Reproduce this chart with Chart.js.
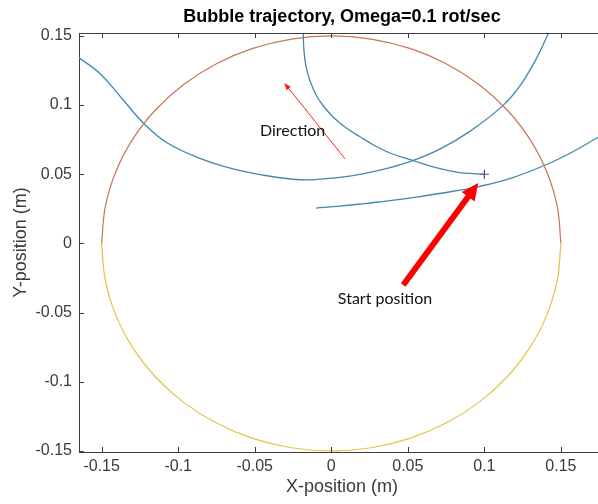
<!DOCTYPE html>
<html>
<head>
<meta charset="utf-8">
<script src="https://cdn.jsdelivr.net/npm/chart.js@4.4.0/dist/chart.umd.min.js"></script>
<style>
  html, body { margin: 0; padding: 0; background: #ffffff; overflow: hidden; width: 598px; height: 504px; }
  #c { display: block; }
</style>
</head>
<body>
<canvas id="c" width="605" height="504"></canvas>
<script>
// Axis ticks
const xTicks = [-0.15, -0.1, -0.05, 0, 0.05, 0.1, 0.15];
const xTickLabels = ['-0.15', '-0.1', '-0.05', '0', '0.05', '0.1', '0.15'];
const yTicks = [-0.15, -0.1, -0.05, 0, 0.05, 0.1, 0.15];
const yTickLabels = ['-0.15', '-0.1', '-0.05', '0', '0.05', '0.1', '0.15'];

// Container wall, radius 0.15 m (points every 10 degrees)
const wallX = [-0.15, -0.14772, -0.14095, -0.12990, -0.11491, -0.09642, -0.075, -0.05130, -0.02605, 0,
               0.02605, 0.05130, 0.075, 0.09642, 0.11491, 0.12990, 0.14095, 0.14772, 0.15];
const wallUpperY = [0, 0.02605, 0.05130, 0.075, 0.09642, 0.11491, 0.12990, 0.14095, 0.14772, 0.15,
                    0.14772, 0.14095, 0.12990, 0.11491, 0.09642, 0.075, 0.05130, 0.02605, 0];
const wallLowerY = [0, -0.02605, -0.05130, -0.075, -0.09642, -0.11491, -0.12990, -0.14095, -0.14772, -0.15,
                    -0.14772, -0.14095, -0.12990, -0.11491, -0.09642, -0.075, -0.05130, -0.02605, 0];

// Bubble trajectory pieces (m)
const leg1X = [-0.0183, -0.0183, -0.0179, -0.0166, -0.0140, -0.0100, -0.0048, 0.0017, 0.0096, 0.0187,
               0.0285, 0.0396, 0.0540, 0.0683, 0.0827, 0.0949, 0.0999];
const leg1Y = [0.1582, 0.1522, 0.1401, 0.1285, 0.1177, 0.1075, 0.0988, 0.0909, 0.0836, 0.0771,
               0.0706, 0.0648, 0.0597, 0.0547, 0.0514, 0.0503, 0.0500];

const leg2X = [-0.1707, -0.1648, -0.1510, -0.1366, -0.1223, -0.1073, -0.0858, -0.0642, -0.0420, -0.0205,
               -0.0074, 0.0056, 0.0187, 0.0318, 0.0533, 0.0709, 0.0905, 0.1121, 0.1232, 0.1341, 0.1417, 0.1441];
const leg2Y = [0.1383, 0.1341, 0.1227, 0.1046, 0.0865, 0.0728, 0.0615, 0.0539, 0.0489, 0.0460,
               0.0464, 0.0477, 0.0499, 0.0529, 0.0599, 0.0681, 0.0810, 0.0996, 0.1138, 0.1339, 0.1516, 0.1578];

const leg3X = [-0.0100, 0.0056, 0.0231, 0.0383, 0.0557, 0.0797, 0.0971, 0.1180, 0.1395, 0.1572, 0.1735, 0.1820];
const leg3Y = [0.0255, 0.0269, 0.0290, 0.0309, 0.0335, 0.0377, 0.0413, 0.0474, 0.0565, 0.0659, 0.0762, 0.0815];

// Start point of the bubble
const startX = [0.1];
const startY = [0.05];

// Annotation arrows: [tailX, tailY, headX, headY]
const directionArrow = [0.0089, 0.0612, -0.0307, 0.1160];
const startArrow = [0.0470, -0.0301, 0.0960, 0.0436];
// Annotation labels: [x, y, text]
const notes = [[-0.0466, 0.0815, 'Direction'], [0.0043, -0.0402, 'Start position']];

const pts = (xs, ys) => xs.map((x, i) => ({x: x, y: ys[i]}));

const TEXT = '#3a3a3a';
const SANS = '"Liberation Sans", Arial, Helvetica, sans-serif';
const BLUE = '#4088ae';

const wallSet = (data, color) => ({
  data: data, showLine: true, borderColor: color, borderWidth: 1.2,
  pointRadius: 0, pointHoverRadius: 0, tension: 0.35, fill: false
});
const legSet = (data) => ({
  data: data, showLine: true, borderColor: BLUE, borderWidth: 1.3,
  pointRadius: 0, pointHoverRadius: 0, tension: 0.4, fill: false
});

// Box ticks, top spine, arrows and notes
const overlay = {
  id: 'overlay',
  afterDatasetsDraw(chart) {
    const {ctx, chartArea: ca, scales: {x, y}} = chart;
    ctx.save();
    ctx.strokeStyle = '#3c3c3c';
    ctx.lineWidth = 1;
    ctx.beginPath();
    ctx.moveTo(ca.left, Math.round(ca.top) + 0.5);
    ctx.lineTo(ca.right, Math.round(ca.top) + 0.5);
    const tl = 5;
    xTicks.forEach(v => {
      const px = Math.round(x.getPixelForValue(v)) + 0.5;
      ctx.moveTo(px, ca.bottom); ctx.lineTo(px, ca.bottom - tl);
      ctx.moveTo(px, ca.top); ctx.lineTo(px, ca.top + tl);
    });
    yTicks.forEach(v => {
      const py = Math.round(y.getPixelForValue(v)) + 0.5;
      ctx.moveTo(ca.left, py); ctx.lineTo(ca.left + tl, py);
      ctx.moveTo(ca.right, py); ctx.lineTo(ca.right - tl, py);
    });
    ctx.stroke();

    // thin direction arrow
    const a = directionArrow.map((v, i) => i % 2 === 0 ? x.getPixelForValue(v) : y.getPixelForValue(v));
    let ang = Math.atan2(a[3] - a[1], a[2] - a[0]);
    ctx.strokeStyle = '#ff2020';
    ctx.fillStyle = '#ff2020';
    ctx.lineWidth = 1;
    ctx.beginPath();
    ctx.moveTo(a[0], a[1]);
    ctx.lineTo(a[2] - 5 * Math.cos(ang), a[3] - 5 * Math.sin(ang));
    ctx.stroke();
    ctx.beginPath();
    ctx.moveTo(a[2], a[3]);
    ctx.lineTo(a[2] - 7 * Math.cos(ang) + 2.8 * Math.sin(ang), a[3] - 7 * Math.sin(ang) - 2.8 * Math.cos(ang));
    ctx.lineTo(a[2] - 7 * Math.cos(ang) - 2.8 * Math.sin(ang), a[3] - 7 * Math.sin(ang) + 2.8 * Math.cos(ang));
    ctx.closePath();
    ctx.fill();

    // thick start arrow
    const b = startArrow.map((v, i) => i % 2 === 0 ? x.getPixelForValue(v) : y.getPixelForValue(v));
    ang = Math.atan2(b[3] - b[1], b[2] - b[0]);
    const c = Math.cos(ang), s = Math.sin(ang);
    const hl = 17, hw = 8, sw = 3;
    const bx = b[2] - hl * c, by = b[3] - hl * s;
    ctx.fillStyle = '#ff0000';
    ctx.beginPath();
    ctx.moveTo(b[0] + sw * s, b[1] - sw * c);
    ctx.lineTo(bx + sw * s, by - sw * c);
    ctx.lineTo(bx + hw * s, by - hw * c);
    ctx.lineTo(b[2], b[3]);
    ctx.lineTo(bx - hw * s, by + hw * c);
    ctx.lineTo(bx - sw * s, by + sw * c);
    ctx.lineTo(b[0] - sw * s, b[1] + sw * c);
    ctx.closePath();
    ctx.fill();

    // notes
    ctx.fillStyle = '#111111';
    ctx.font = '16px Lato, "Open Sans", sans-serif';
    ctx.textAlign = 'left';
    ctx.textBaseline = 'middle';
    notes.forEach(n => ctx.fillText(n[2], x.getPixelForValue(n[0]), y.getPixelForValue(n[1])));
    ctx.restore();
  }
};

new Chart(document.getElementById('c'), {
  type: 'scatter',
  data: {
    datasets: [
      wallSet(pts(wallX, wallUpperY), '#c67656'),
      wallSet(pts(wallX, wallLowerY), '#e1c448'),
      legSet(pts(leg1X, leg1Y)),
      legSet(pts(leg2X, leg2Y)),
      legSet(pts(leg3X, leg3Y)),
      {
        data: pts(startX, startY), showLine: false, pointStyle: 'cross',
        pointRadius: 4.5, pointHoverRadius: 4.5, borderColor: '#7e2f8e', borderWidth: 1.2
      }
    ]
  },
  options: {
    responsive: false,
    animation: false,
    devicePixelRatio: 1,
    layout: { padding: 0, autoPadding: false },
    plugins: {
      legend: { display: false },
      tooltip: { enabled: false },
      title: {
        display: true,
        text: 'Bubble trajectory, Omega=0.1 rot/sec',
        fullSize: false,
        align: 'center',
        color: '#000000',
        font: { family: SANS, size: 18, weight: 'bold' },
        padding: { top: 6, bottom: 5.4 }
      }
    },
    scales: {
      x: {
        type: 'linear',
        min: -0.1648,
        max: 0.1788,
        afterBuildTicks: s => { s.ticks = xTicks.map(v => ({value: v})); },
        afterFit: s => { s.height = 52; s.paddingLeft = 0; s.paddingRight = 0; },
        grid: { display: false, drawTicks: false },
        border: { display: true, color: '#3c3c3c', width: 1 },
        ticks: {
          autoSkip: false, maxRotation: 0, padding: 5, color: TEXT,
          font: { family: SANS, size: 16 },
          callback: (v, i) => xTickLabels[i]
        },
        title: {
          display: true, text: 'X-position (m)', color: TEXT,
          font: { family: SANS, size: 18 }, padding: { top: 0, bottom: 6 }
        }
      },
      y: {
        type: 'linear',
        min: -0.1508,
        max: 0.1521,
        afterBuildTicks: s => { s.ticks = yTicks.map(v => ({value: v})); },
        afterFit: s => { s.width = 79; s.paddingTop = 0; s.paddingBottom = 0; },
        grid: { display: false, drawTicks: false },
        border: { display: true, color: '#3c3c3c', width: 1 },
        ticks: {
          autoSkip: false, padding: 7, color: TEXT,
          font: { family: SANS, size: 16 },
          callback: (v, i) => yTickLabels[i]
        },
        title: {
          display: true, text: 'Y-position (m)', color: TEXT,
          font: { family: SANS, size: 18 }, padding: { top: 10, bottom: 0 }
        }
      }
    }
  },
  plugins: [overlay]
});
</script>
</body>
</html>
